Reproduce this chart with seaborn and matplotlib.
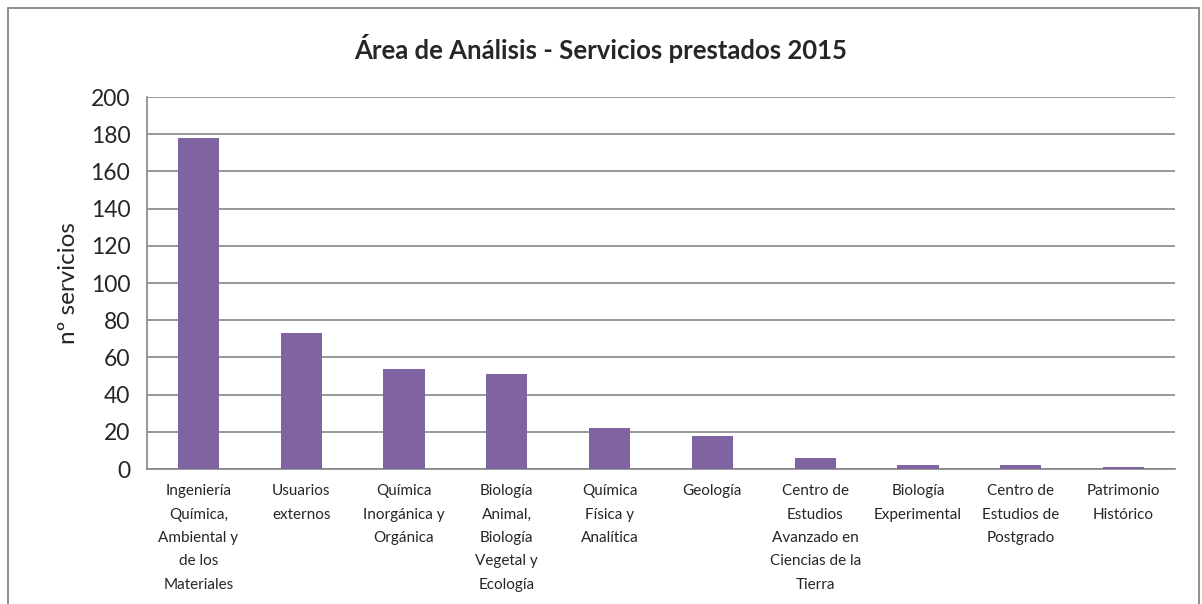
import matplotlib
matplotlib.use("Agg")
import pandas as pd
import seaborn as sns
import matplotlib.pyplot as plt
from matplotlib.patches import Rectangle

# Data
categorias = [
    "Ingeniería\nQuímica,\nAmbiental y\nde los\nMateriales",
    "Usuarios\nexternos",
    "Química\nInorgánica y\nOrgánica",
    "Biología\nAnimal,\nBiología\nVegetal y\nEcología",
    "Química\nFísica y\nAnalítica",
    "Geología",
    "Centro de\nEstudios\nAvanzado en\nCiencias de la\nTierra",
    "Biología\nExperimental",
    "Centro de\nEstudios de\nPostgrado",
    "Patrimonio\nHistórico",
]
servicios = [178, 73, 54, 51, 22, 18, 6, 2, 2, 1]
y_ticks = [0, 20, 40, 60, 80, 100, 120, 140, 160, 180, 200]

df = pd.DataFrame({"area": categorias, "servicios": servicios})

sns.set_style("white")
plt.rcParams["font.family"] = ["Lato", "DejaVu Sans"]

grey = "#868686"
fig = plt.figure(figsize=(12.02, 6.04), dpi=100)
ax = fig.add_axes([0.1223, 0.2235, 0.8552, 0.6159])

sns.barplot(data=df, x="area", y="servicios", color="#8064A2", width=0.4,
            saturation=1, linewidth=0, ax=ax, zorder=3)

ax.set_ylim(0, 200)
ax.set_xlim(-0.5, len(categorias) - 0.5)
ax.set_yticks(y_ticks)
ax.yaxis.grid(True, color=grey, linewidth=1.2, zorder=0)

# labels at the centres, tick marks on the category boundaries
ax.set_xticks([i - 0.5 for i in range(len(categorias) + 1)])
ax.set_xticklabels([])
ax.set_xticks(range(len(categorias)), minor=True)
ax.set_xticklabels(categorias, minor=True, fontsize=11, linespacing=1.85, va="top")
ax.tick_params(axis="x", which="minor", length=0, pad=11)
ax.tick_params(axis="x", which="major", length=6, width=1.2, color=grey, direction="out")
ax.tick_params(axis="y", length=6, width=1.2, color=grey, direction="out", labelsize=16.5, pad=6)

for s in ["top", "right"]:
    ax.spines[s].set_visible(False)
for s in ["left", "bottom"]:
    ax.spines[s].set_color(grey)
    ax.spines[s].set_linewidth(1.2)

ax.set_xlabel("")
ax.set_ylabel("nº servicios", fontsize=17.5, labelpad=8)
fig.text(0.5, 0.92, "Área de Análisis - Servicios prestados 2015", ha="center", va="center",
         fontsize=18.5, fontweight="bold")

# outer chart frame
fig.patches.append(Rectangle((0.0067, -0.05), 0.9908, 1.0368, transform=fig.transFigure,
                             fill=False, edgecolor=grey, linewidth=1.3))

plt.savefig("out.png", dpi=100)
